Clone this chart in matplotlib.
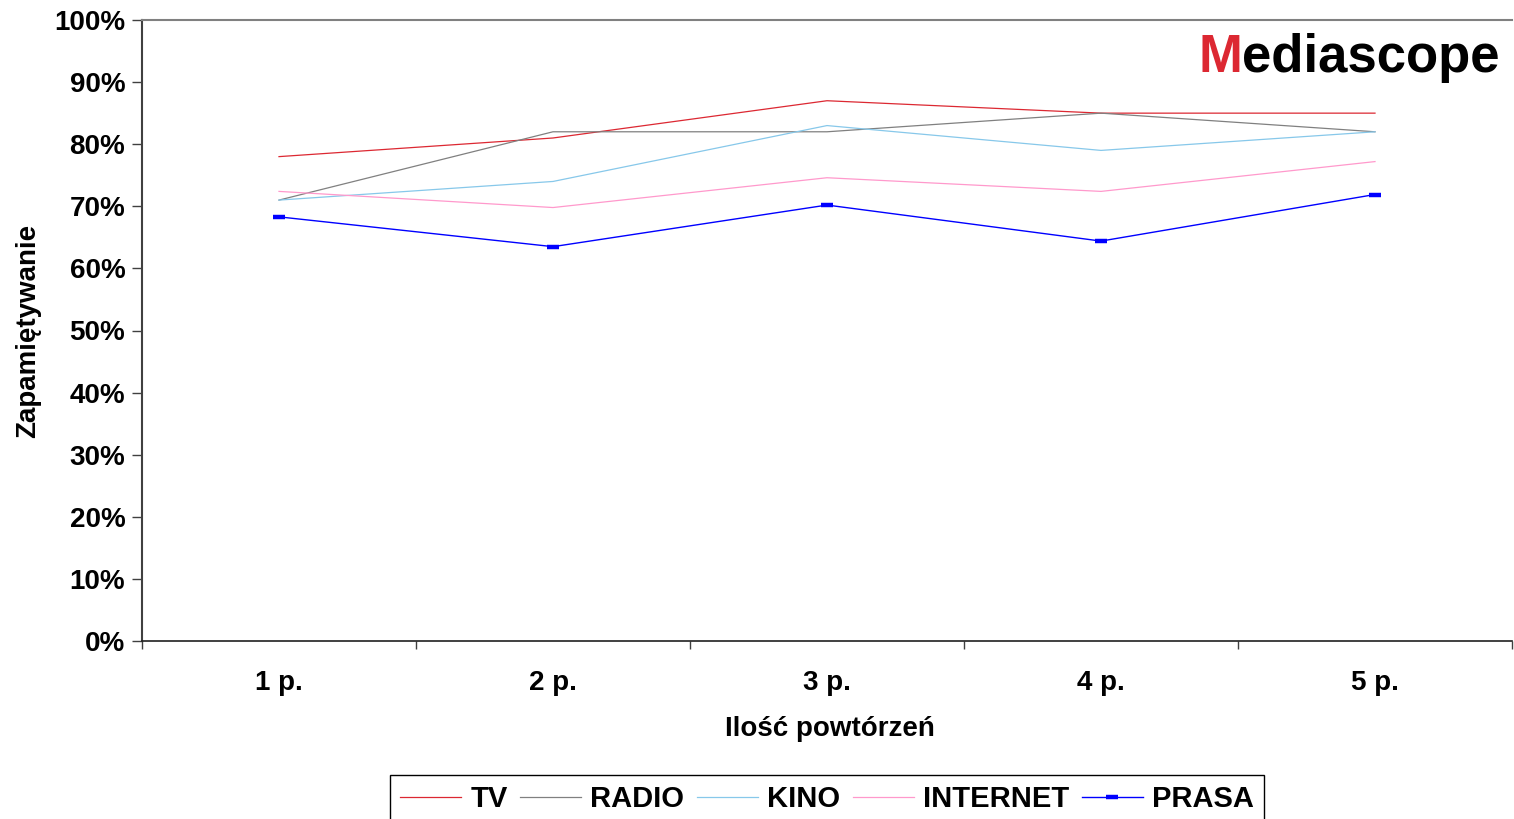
import matplotlib
matplotlib.use("Agg")
import matplotlib.pyplot as plt
from matplotlib.ticker import FixedLocator, FuncFormatter

plt.rcParams['font.family'] = ['Liberation Sans', 'DejaVu Sans']
plt.rcParams['font.weight'] = 'bold'

# ------------------------------------------------------------
# DATA
# ------------------------------------------------------------
categories = ["1 p.", "2 p.", "3 p.", "4 p.", "5 p."]
tv = [78.0, 81.0, 87.0, 85.0, 85.0]
radio = [71.0, 82.0, 82.0, 85.0, 82.0]
kino = [71.0, 74.0, 83.0, 79.0, 82.0]
internet = [72.4, 69.8, 74.6, 72.4, 77.2]
prasa = [68.3, 63.5, 70.2, 64.4, 71.9]

series_names = ["TV", "RADIO", "KINO", "INTERNET", "PRASA"]
series_vals = [tv, radio, kino, internet, prasa]
colors = ["#dc2832", "#808080", "#87c8ea", "#ff99cc", "#0000ff"]

W, H = 1514, 819
fig = plt.figure(figsize=(W / 100, H / 100), dpi=100, facecolor='white')
ax = fig.add_axes([142 / W, 1 - 641 / H, (1512 - 142) / W, (641 - 20) / H])

x = list(range(1, len(categories) + 1))
for name, vals, col in zip(series_names, series_vals, colors):
    if name == "PRASA":
        ax.plot(x, vals, color=col, lw=1.0, marker='_', markersize=8, mew=3.2, label=name)
    else:
        ax.plot(x, vals, color=col, lw=0.9, label=name)

ax.set_xlim(0.5, len(categories) + 0.5)
ax.set_ylim(0, 100)

# y axis
ax.set_yticks(range(0, 101, 10))
ax.yaxis.set_major_formatter(FuncFormatter(lambda v, p: f"{v:.0f}%"))
ax.tick_params(axis='y', direction='out', length=7, width=1, color='#404040',
               labelsize=20, pad=5)

# x axis: ticks at category boundaries, labels in the middle
ax.xaxis.set_major_locator(FixedLocator([i + 0.5 for i in range(len(categories) + 1)]))
ax.xaxis.set_major_formatter(FuncFormatter(lambda v, p: ""))
ax.xaxis.set_minor_locator(FixedLocator(x))
ax.set_xticklabels(categories, minor=True)
ax.tick_params(axis='x', which='major', direction='out', length=6, width=1, color='#404040')
ax.tick_params(axis='x', which='minor', length=0, labelsize=20, pad=21)

for lab in ax.get_yticklabels() + ax.get_xticklabels(minor=True):
    lab.set_fontweight('bold')

ax.spines['right'].set_visible(False)
ax.spines['top'].set_color('#808080')
ax.spines['top'].set_linewidth(1.5)
ax.spines['left'].set_color('#404040')
ax.spines['left'].set_linewidth(1.5)
ax.spines['bottom'].set_color('#202020')
ax.spines['bottom'].set_linewidth(1.2)

ax.set_ylabel("Zapamiętywanie", fontsize=20, fontweight='bold')
ax.yaxis.set_label_coords((41 - 142) / 1370, 0.5)
ax.set_xlabel("Ilość powtórzeń", fontsize=20, fontweight='bold')
ax.xaxis.set_label_coords(0.502, (641 - 716) / 621)

# legend
leg = fig.legend(loc='upper center', bbox_to_anchor=(827 / W, 1 - 775 / H), ncol=5,
                 frameon=True, fancybox=False, edgecolor='black', framealpha=1,
                 fontsize=21, handlelength=2.1, handletextpad=0.32, columnspacing=0.42,
                 borderpad=0.35, borderaxespad=0)
leg.get_frame().set_linewidth(1.0)
for t in leg.get_texts():
    t.set_fontweight('bold')

# logo
t2 = fig.text(1500 / W, 1 - 72 / H, "ediascope", fontsize=38, fontweight='bold',
              color='black', ha='right', va='baseline')
fig.canvas.draw()
bb = t2.get_window_extent()
fig.text(bb.x0 / W, 1 - 72 / H, "M", fontsize=38, fontweight='bold',
         color='#dc2832', ha='right', va='baseline')

fig.savefig("out.png", dpi=100, facecolor='white')
